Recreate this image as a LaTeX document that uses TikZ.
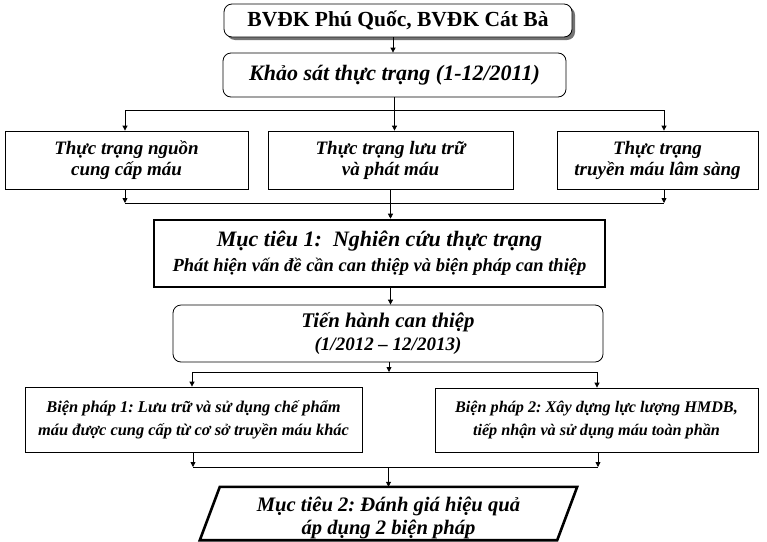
\documentclass[tikz,border=0pt]{standalone}
\usepackage{fontspec}
\setmainfont{Liberation Serif}
\usetikzlibrary{arrows.meta,shadows,calc}
\frenchspacing
\begin{document}
\begin{tikzpicture}[x=1pt,y=-1pt,
  arr/.style={-{Triangle[length=5pt,width=5pt]}, line width=0.8pt},
  ln/.style={line width=0.8pt},
  plainbox/.style={draw, line width=0.8pt, align=center, inner sep=0pt, font=\bfseries\itshape},
  roundbox/.style={plainbox, rounded corners=8pt},
  thickbox/.style={plainbox, line width=2.6pt}
]
\useasboundingbox (0,0) rectangle (767,541);

% top boxes
\node[roundbox, font=\bfseries\fontsize{21.5}{24}\selectfont, minimum width=348pt, minimum height=33pt, fill=white,
  drop shadow={shadow xshift=3pt, shadow yshift=-3pt, fill=black!55, opacity=1}] (b1) at (398,20.5) {BVĐK Phú Quốc, BVĐK Cát Bà};
\node[roundbox, font=\bfseries\itshape\fontsize{22}{24}\selectfont, minimum width=343pt, minimum height=44pt] (b2) at (394.5,75) {Khảo sát thực trạng (1-12/2011)};

% three status boxes
\node[plainbox, font=\bfseries\itshape\fontsize{19}{21}\selectfont, minimum width=243pt, minimum height=58pt] (L) at (126.5,160) {Thực trạng nguồn\\cung cấp máu};
\node[plainbox, font=\bfseries\itshape\fontsize{19}{21}\selectfont, minimum width=245pt, minimum height=58pt] (M) at (390.5,160) {Thực trạng lưu trữ\\và phát máu};
\node[plainbox, font=\bfseries\itshape\fontsize{19}{21}\selectfont, minimum width=201pt, minimum height=58pt] (R) at (657.5,160) {Thực trạng\\truyền máu lâm sàng};

% objective 1
\node[thickbox, minimum width=451pt, minimum height=67pt] (mt1) at (379.5,253.5)
  {{\fontsize{22}{24}\selectfont Mục tiêu 1:\ \ Nghiên cứu thực trạng}\\[6pt]{\fontsize{18.5}{21}\selectfont Phát hiện vấn đề cần can thiệp và biện pháp can thiệp}};

% intervention
\node[roundbox, minimum width=430pt, minimum height=57pt] (th) at (388,333.5)
  {{\fontsize{20.8}{23}\selectfont Tiến hành can thiệp}\\[5pt]{\fontsize{19}{21}\selectfont (1/2012 – 12/2013)}};

% measures
\node[plainbox, font=\bfseries\itshape\fontsize{16.4}{23}\selectfont, minimum width=337pt, minimum height=65pt] (bp1) at (193.5,419.5)
  {Biện pháp 1: Lưu trữ và sử dụng chế phẩm\\máu được cung cấp từ cơ sở truyền máu khác};
\node[plainbox, font=\bfseries\itshape\fontsize{16.2}{23}\selectfont, minimum width=323pt, minimum height=64pt] (bp2) at (596.5,420)
  {Biện pháp 2: Xây dựng lực lượng HMDB,\\tiếp nhận và sử dụng máu toàn phần};

% objective 2 (parallelogram)
\node[inner sep=0pt, minimum width=357pt, minimum height=53pt] (mt2) at (388.5,513.5) {};
\node[align=center, inner sep=0pt, font=\bfseries\itshape\fontsize{20.6}{23}\selectfont] (mt2t) at ([yshift=-4pt]mt2.center)
  {Mục tiêu 2: Đánh giá hiệu quả\\áp dụng 2 biện pháp};
\draw[line width=2.6pt, line join=miter] ([xshift=10pt]mt2.north west) -- ([xshift=10pt]mt2.north east)
  -- ([xshift=-10pt]mt2.south east) -- ([xshift=-10pt]mt2.south west) -- cycle;

% junction coordinates
\coordinate (h1l) at (125,110);
\coordinate (h1r) at (664,110);
\coordinate (h2l) at (125,203);
\coordinate (h2r) at (664,203);
\coordinate (h3l) at (192,372);
\coordinate (h3r) at (597,372);
\coordinate (h4l) at (193,467);
\coordinate (h4r) at (598,467);

% connectors
\draw[arr] ([xshift=-5pt]b1.south) -- ([xshift=-5pt]b1.south |- b2.north);
\draw[arr] (b2.south) -- (b2.south |- M.north);
\draw[ln] (h1l) -- (h1r);
\draw[arr] (h1l) -- (h1l |- L.north);
\draw[arr] (h1r) -- (h1r |- R.north);

\draw[arr] (h2l |- L.south) -- (h2l);
\draw[arr] (h2r |- R.south) -- (h2r);
\draw[ln] (h2l) -- (h2r);
\draw[arr] (M.south) -- (M.south |- mt1.north);

\draw[arr] (M.south |- mt1.south) -- (M.south |- th.north);

\draw[arr] ([xshift=1pt]th.south) -- ([xshift=1pt]th.south |- h3l);
\draw[ln] (h3l) -- (h3r);
\draw[arr] (h3l) -- (h3l |- bp1.north);
\draw[arr] (h3r) -- (h3r |- bp2.north);

\draw[arr] (h4l |- bp1.south) -- (h4l);
\draw[arr] (h4r |- bp2.south) -- (h4r);
\draw[ln] (h4l) -- (h4r);
\draw[arr] (mt2.north |- h4l) -- (mt2.north);
\end{tikzpicture}
\end{document}
